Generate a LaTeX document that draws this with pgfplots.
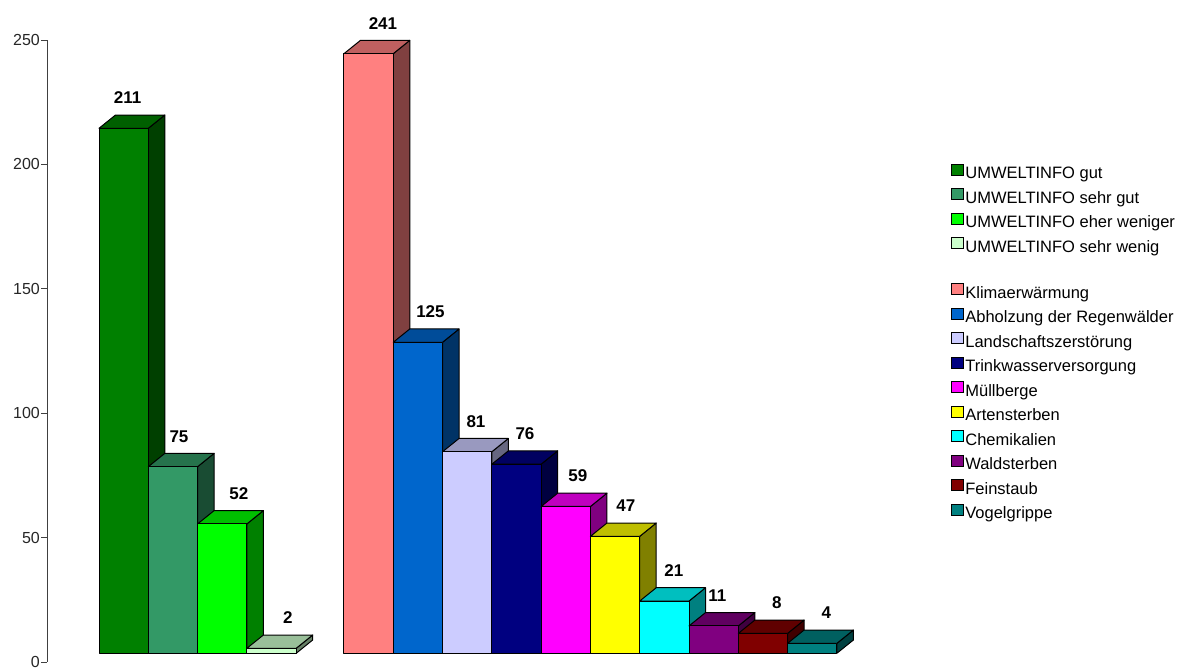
\documentclass[border=0pt]{standalone}
\usepackage{pgfplots}
\usepackage{pgfplotstable}
\pgfplotsset{compat=1.18}
\usepackage{fontspec}
\setmainfont{Liberation Sans}

\definecolor{c0}{HTML}{008000}
\definecolor{c1}{HTML}{339966}
\definecolor{c2}{HTML}{00FF00}
\definecolor{c3}{HTML}{CCFFCC}
\definecolor{c4}{HTML}{FF8080}
\definecolor{c5}{HTML}{0066CC}
\definecolor{c6}{HTML}{CCCCFF}
\definecolor{c7}{HTML}{000080}
\definecolor{c8}{HTML}{FF00FF}
\definecolor{c9}{HTML}{FFFF00}
\definecolor{c10}{HTML}{00FFFF}
\definecolor{c11}{HTML}{800080}
\definecolor{c12}{HTML}{800000}
\definecolor{c13}{HTML}{008080}

% x = bar centre, v = value, lx = label position
\pgfplotstableread{
x v lx
1.555 211 1.637
2.555 75 2.677
3.555 52 3.894
4.555 2 4.888
6.524 241 6.815
7.524 125 7.779
8.524 81 8.702
9.524 76 9.696
10.524 59 10.771
11.524 47 11.744
12.524 21 12.718
13.524 11 13.600
14.524 8 14.807
15.524 4 15.811
}\bars

\def\base{3.5}
\def\ddx{0.335}
\def\ddy{5.35}

\begin{document}
\begin{tikzpicture}
\useasboundingbox (0,0) rectangle (1185pt,668pt);
\begin{axis}[
  at={(47pt,6pt)}, anchor=south west,
  scale only axis, width=838pt, height=622pt,
  xmin=0, xmax=17, ymin=0, ymax=250,
  axis x line=none,
  axis y line*=left,
  y axis line style={black!75, line width=0.8pt},
  ytick={0,50,100,150,200,250},
  tick align=outside, ytick pos=left,
  major tick length=6pt,
  y tick style={black!75, line width=0.8pt},
  /pgf/number format/assume math mode=true,
  yticklabel style={font=\fontsize{16}{16}\selectfont, text=black!85, inner sep=1pt, text depth=0pt},
  clip=false,
  legend cell align=left,
  legend image code/.code={\draw[#1,draw=black,line width=0.8pt] (0pt,-0.5pt) rectangle (11.5pt,10.5pt);},
  legend style={draw=none, fill=none, at={(1.075,0.8045)}, anchor=north west,
    font=\fontsize{16.5}{16.5}\selectfont, row sep=5.6pt,
    nodes={text height=12pt, text depth=4pt, inner sep=0pt, inner xsep=2pt}},
]
\pgfplotsinvokeforeach{0,...,13}{
  \pgfplotstablegetelem{#1}{x}\of\bars \let\bx\pgfplotsretval
  \pgfplotstablegetelem{#1}{v}\of\bars \let\bv\pgfplotsretval
  \pgfmathsetmacro\xl{\bx-0.5}
  \pgfmathsetmacro\xr{\bx+0.5}
  \pgfmathsetmacro\xll{\bx-0.5+\ddx}
  \pgfmathsetmacro\xrr{\bx+0.5+\ddx}
  \pgfmathsetmacro\yb{\base}
  \pgfmathsetmacro\ybb{\base+\ddy}
  \pgfmathsetmacro\yt{\base+\bv}
  \pgfmathsetmacro\ytt{\base+\bv+\ddy}
  \edef\temp{%
    \noexpand\addplot[forget plot, draw=black, line width=1pt, line join=round, fill=c#1!50!black]
      coordinates {(\xr,\yb)(\xrr,\ybb)(\xrr,\ytt)(\xr,\yt)} --cycle;
    \noexpand\addplot[forget plot, draw=black, line width=1pt, line join=round, fill=c#1!75!black]
      coordinates {(\xl,\yt)(\xr,\yt)(\xrr,\ytt)(\xll,\ytt)} --cycle;
    \noexpand\addplot[forget plot, draw=black, line width=1pt, line join=round, fill=c#1]
      coordinates {(\xl,\yb)(\xr,\yb)(\xr,\yt)(\xl,\yt)} --cycle;
  }\temp
}
\addplot[forget plot, draw=none, mark=none, nodes near coords, point meta=explicit symbolic,
  every node near coord/.style={anchor=south, yshift=11pt, inner sep=0pt,
    font=\fontsize{17}{17}\selectfont\bfseries, text=black}]
  table[x=lx, y expr=\thisrow{v}+3.5+5.35, meta=v] {\bars};

\addlegendimage{fill=c0}\addlegendentry{UMWELTINFO gut}
\addlegendimage{fill=c1}\addlegendentry{UMWELTINFO sehr gut}
\addlegendimage{fill=c2}\addlegendentry{UMWELTINFO eher weniger}
\addlegendimage{fill=c3}\addlegendentry{UMWELTINFO sehr wenig}
\addlegendimage{empty legend}\addlegendentry{}
\addlegendimage{fill=c4}\addlegendentry{Klimaerwärmung}
\addlegendimage{fill=c5}\addlegendentry{Abholzung der Regenwälder}
\addlegendimage{fill=c6}\addlegendentry{Landschaftszerstörung}
\addlegendimage{fill=c7}\addlegendentry{Trinkwasserversorgung}
\addlegendimage{fill=c8}\addlegendentry{Müllberge}
\addlegendimage{fill=c9}\addlegendentry{Artensterben}
\addlegendimage{fill=c10}\addlegendentry{Chemikalien}
\addlegendimage{fill=c11}\addlegendentry{Waldsterben}
\addlegendimage{fill=c12}\addlegendentry{Feinstaub}
\addlegendimage{fill=c13}\addlegendentry{Vogelgrippe}
\end{axis}
\end{tikzpicture}
\end{document}
